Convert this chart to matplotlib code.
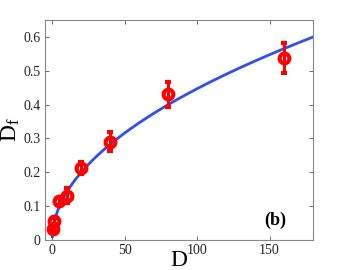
import numpy as np
import matplotlib
matplotlib.use("Agg")
import matplotlib.pyplot as plt

plt.rcParams['font.family'] = ['Liberation Serif', 'DejaVu Serif']
plt.rcParams['mathtext.fontset'] = 'custom'
plt.rcParams['mathtext.rm'] = 'Liberation Serif'
plt.rcParams['mathtext.it'] = 'Liberation Serif:italic'

D = [0.5, 1, 5, 10, 20, 40, 80, 160]
Df = [0.032, 0.056, 0.114, 0.131, 0.212, 0.290, 0.430, 0.538]
Df_err = [0.006, 0.008, 0.010, 0.023, 0.017, 0.028, 0.038, 0.045]
fit_coef = 0.0447
fit_exp = 0.5

fig = plt.figure(figsize=(3.46, 2.70), dpi=100)
ax = fig.add_axes([45/346, 30/270, 268/346, 220/270])

xf = np.linspace(0.05, 180, 400)
ax.plot(xf, fit_coef * xf**fit_exp, color='#2f4ff0', lw=2.0, zorder=2)
ax.errorbar(D, Df, yerr=Df_err, fmt='o', color='#ff0000', ms=7, mfc='none',
            mew=3.0, elinewidth=2.2, capsize=2.5, capthick=2.2, zorder=3)

ax.set_xlim(-5, 180)
ax.set_ylim(0, 0.65)
ax.set_xticks([0, 50, 100, 150])
ax.set_yticks([0, 0.1, 0.2, 0.3, 0.4, 0.5, 0.6])
ax.set_yticklabels(['0', '0.1', '0.2', '0.3', '0.4', '0.5', '0.6'])
ax.tick_params(direction='in', top=True, right=True, length=3, width=0.6,
               labelsize=10, colors='#555555', labelcolor='#222222', pad=3)
for s in ax.spines.values():
    s.set_color('#888888')
    s.set_linewidth(0.8)

ax.set_xlabel('D', fontsize=17, labelpad=-5)
ax.set_ylabel(r'D$_\mathrm{f}$', fontsize=17, labelpad=1)
ax.text(0.86, 0.09, '(b)', transform=ax.transAxes, fontsize=13,
        fontweight='bold', ha='center', va='center')

fig.savefig('out.png', dpi=100)
